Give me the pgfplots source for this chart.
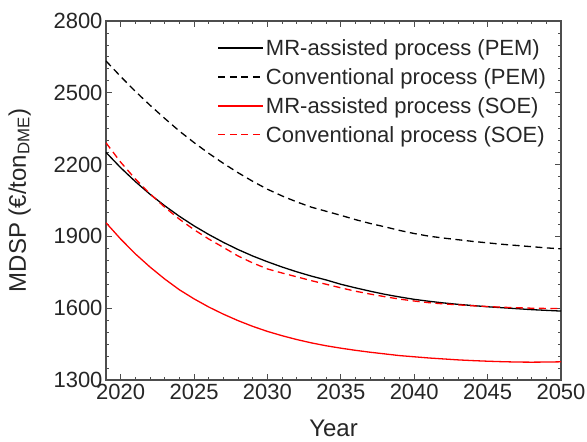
\documentclass[border=0pt]{standalone}
\usepackage{pgfplots}
\usepackage{pgfplotstable}
\pgfplotsset{compat=1.18}
\usepackage{fontspec}
\setmainfont{Liberation Sans}

\pgfplotstableread{
year bs bd rs rd
2019 2251 2633 1957 2291
2020 2187 2568 1889 2210
2021 2129 2506 1827 2140
2022 2076 2448 1772 2078
2023 2028 2393 1722 2022
2024 1984 2340 1677 1972
2025 1944 2292 1639 1928
2026 1908 2247 1605 1889
2027 1875 2205 1575 1854
2028 1845 2166 1548 1818
2029 1818 2130 1524 1789
2030 1794 2097 1503 1764
2031 1772 2069 1485 1747
2032 1752 2044 1469 1731
2033 1734 2022 1455 1715
2034 1718 2005 1443 1700
2035 1700 1988 1433 1685
2036 1685 1970 1424 1671
2037 1671 1954 1416 1659
2038 1658 1940 1409 1648
2039 1647 1925 1402 1638
2040 1637 1912 1397 1630
2041 1629 1901 1392 1623
2042 1622 1893 1388 1618
2043 1616 1886 1384 1614
2044 1611 1879 1381 1610
2045 1606 1873 1378.5 1607
2046 1602 1867 1376.5 1604
2047 1598 1862 1375 1602
2048 1594 1857 1374.5 1600
2049 1591 1852 1375 1599
2050 1588 1848 1376 1599
}\data

\definecolor{axgray}{RGB}{77,77,77}
\definecolor{txt}{RGB}{38,38,38}

\begin{document}
\begin{tikzpicture}
\begin{axis}[
  width=455bp, height=359bp, scale only axis,
  xmin=2019, xmax=2050, ymin=1300, ymax=2800,
  xtick={2020,2025,...,2050}, ytick={1300,1600,...,2800},
  minor x tick num=4, minor y tick num=5,
  tick align=inside, major tick length=6bp, minor tick length=3.5bp,
  axis line style={draw=axgray, line width=1.2bp},
  every tick/.style={axgray, line width=0.8bp},
  tick label style={font=\fontsize{22bp}{26bp}\selectfont, text=txt},
  /pgf/number format/assume math mode=true,
  /pgf/number format/1000 sep={},
  xticklabel style={yshift=-1bp},
  xlabel={Year}, ylabel={MDSP (€/ton\textsubscript{DME})},
  label style={font=\fontsize{24bp}{28bp}\selectfont, text=txt},
  xlabel style={at={(axis description cs:0.5,-0.158)}, anchor=base},
  ylabel style={at={(axis description cs:-0.190,0.5)}, anchor=center},
  legend cell align=left,
  legend style={at={(0.245,0.955)}, anchor=north west, draw=none, fill=none,
    font=\fontsize{22bp}{26bp}\selectfont, text=txt, row sep=7.5bp,
    inner sep=0pt},
  legend image code/.code={\draw[#1] (0bp,0bp) -- (45bp,0bp);},
]
\addplot[black, line width=1.3bp, no marks] table[x=year, y=bs] {\data};
\addlegendentry{MR-assisted process (PEM)}
\addplot[black, line width=1.3bp, no marks, dash pattern=on 7bp off 4.5bp] table[x=year, y=bd] {\data};
\addlegendentry{Conventional process (PEM)}
\addplot[red, line width=1.3bp, no marks] table[x=year, y=rs] {\data};
\addlegendentry{MR-assisted process (SOE)}
\addplot[red, line width=1.3bp, no marks, dash pattern=on 7bp off 4.5bp] table[x=year, y=rd] {\data};
\addlegendentry{Conventional process (SOE)}
\end{axis}
\pgfresetboundingbox
\path (current axis.south west) ++(-106bp,-62bp) rectangle ++(587bp,442bp);
\end{tikzpicture}
\end{document}
